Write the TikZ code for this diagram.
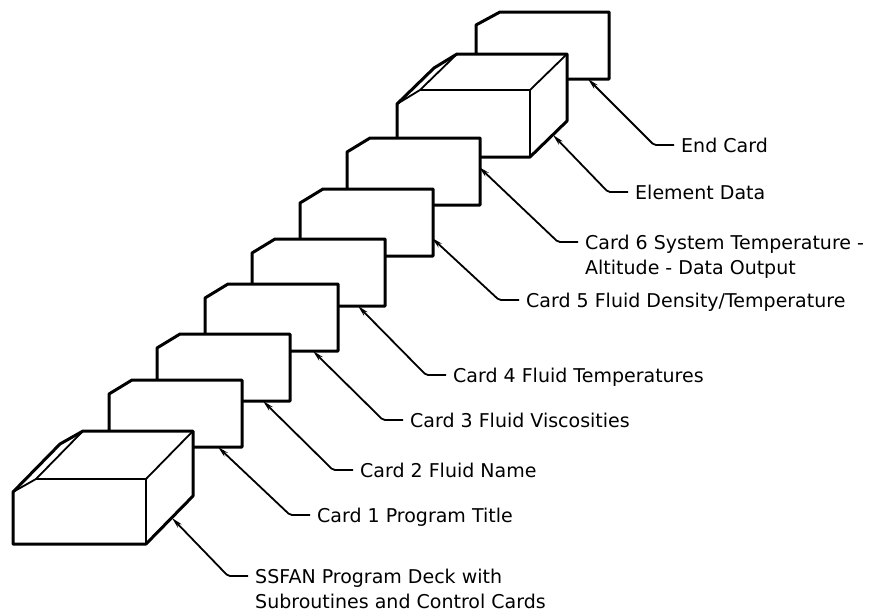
\documentclass[tikz,border=0pt]{standalone}
\usepackage{fontspec}
\setmainfont{DejaVu Sans}
\usetikzlibrary{arrows.meta}
\usetikzlibrary{calc}
\tikzset{
    card/.style = {
      draw,
      fill=white,
      line width=3pt,
      line join=round
    },
    fold/.style = {line width=1.8pt, line join=round},
    leader/.style = {{Stealth[length=11pt,width=5pt]}-, line width=1.8pt, rounded corners=2pt},
    tag/.style = {
      anchor=base west,
      inner xsep=7pt,
      inner ysep=0pt,
      font=\fontsize{19}{25}\selectfont
    },
}

\begin{document}
\begin{tikzpicture}[x=1pt, y=-1pt]
  \useasboundingbox (0,0) rectangle (869,613);

  % end card, behind everything
  \draw[card] (476,25) -- (500,12) -- (609,12) -- (609,79) -- (476,79) -- cycle;
  \coordinate (tipend) at (588,79);

  % element data deck
  \draw[card] (397,157) -- (397,104) -- (434,68) -- (457,54) -- (567,54)
              -- (567,121) -- (530,157) -- cycle;
  \draw[fold] (397,104) -- (420,90) -- (530,90) -- (530,157)
              (530,90) -- (567,54)
              (420,90) -- (457,54);
  \coordinate (tipelem) at (553,135);

  % cards 6 down to 1
  \foreach \l/\t/\n in {347/138/6, 300/189/5, 252/239/4, 205/284/3, 157/334/2, 109/380/1}{
    \draw[card] (\l,\t+14) -- (\l+23,\t) -- (\l+133,\t) -- (\l+133,\t+67)
                -- (\l,\t+67) -- cycle;
    \coordinate (card\n) at (\l,\t);
  }

  % program deck in front
  \draw[card] (13,544) -- (13,492) -- (60,444) -- (83,431) -- (193,431)
              -- (193,496) -- (146,544) -- cycle;
  \draw[fold] (13,492) -- (36,479) -- (146,479) -- (146,544)
              (146,479) -- (193,431)
              (36,479) -- (83,431);
  \coordinate (tipdeck) at (172,518);

  \coordinate (tip1) at ($(card1)+(109,67)$);
  \coordinate (tip2) at ($(card2)+(106,67)$);
  \coordinate (tip3) at ($(card3)+(108,67)$);
  \coordinate (tip4) at ($(card4)+(106,67)$);
  \coordinate (tip5) at ($(card5)+(132,49)$);
  \coordinate (tip6) at ($(card6)+(132,29)$);

  % labels
  \node[tag] (lblend) at (674,152) {End Card};
  \node[tag] (lblelem) at (628,199) {Element Data};
  \node[tag] (lbl6) at (578,249) {\begin{tabular}[t]{@{}l@{}}Card 6 System Temperature -\\Altitude - Data Output\end{tabular}};
  \node[tag] (lbl5) at (519,307) {Card 5 Fluid Density/Temperature};
  \node[tag] (lbl4) at (446,382) {Card 4 Fluid Temperatures};
  \node[tag] (lbl3) at (403,427) {Card 3 Fluid Viscosities};
  \node[tag] (lbl2) at (353,477) {Card 2 Fluid Name};
  \node[tag] (lbl1) at (310,522) {Card 1 Program Title};
  \node[tag] (lbldeck) at (248,583) {\begin{tabular}[t]{@{}l@{}}SSFAN Program Deck with\\Subroutines and Control Cards\end{tabular}};

  \foreach \tip/\lbl in {tipend/lblend, tipelem/lblelem, tip6/lbl6, tip5/lbl5,
      tip4/lbl4, tip3/lbl3, tip2/lbl2, tip1/lbl1, tipdeck/lbldeck}
    \draw[leader] (\tip) -- ([shift={(-20pt,7pt)}]\lbl.base west)
                  -- ([yshift=7pt]\lbl.base west);
\end{tikzpicture}
\end{document}
